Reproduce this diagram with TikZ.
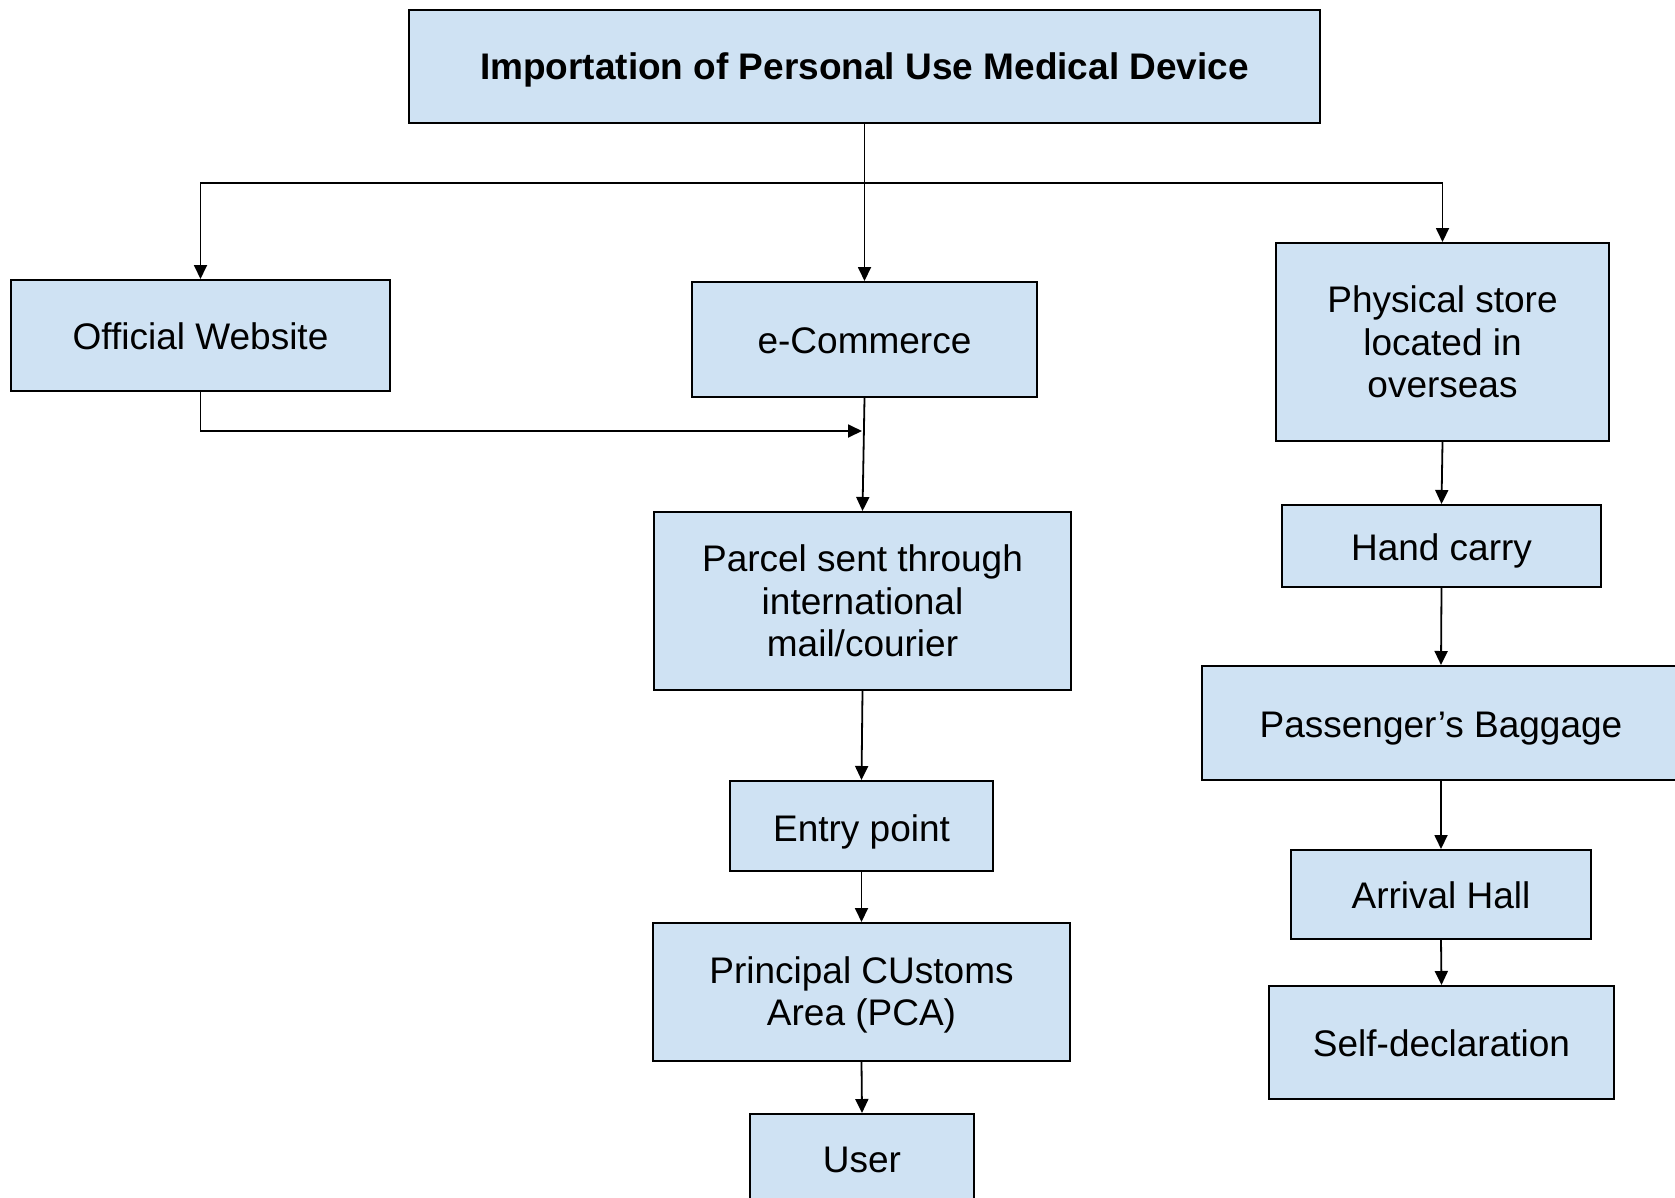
\documentclass[tikz,border=0pt]{standalone}
\usepackage{fontspec}
\setmainfont{Liberation Sans}
\usetikzlibrary{arrows.meta}
\definecolor{boxfill}{HTML}{CFE2F3}
\newcommand{\lowr}[2]{\raisebox{-#1}[\height][\depth]{#2}}
\begin{document}
\begin{tikzpicture}[x=1pt,y=-1pt,
  box/.style={draw=black,line width=2pt,fill=boxfill,rectangle,inner sep=0pt,align=center,
    font=\fontsize{37}{42.6}\selectfont},
  arr/.style={draw=black,line width=1.8pt,-{Triangle[width=13pt,length=14pt]}}]
\useasboundingbox (0,0) rectangle (1675,1197);
\node[box,font=\bfseries\fontsize{37}{42.6}\selectfont,minimum width=911pt,minimum height=113pt] (title) at (864.5,66.5) {\lowr{3pt}{Importation of Personal Use Medical Device}};
\node[box,minimum width=379pt,minimum height=111pt] (official) at (200.5,335.5) {\lowr{1pt}{Official Website}};
\node[box,minimum width=345pt,minimum height=115pt] (ecom) at (864.5,339.5) {\lowr{1pt}{e-Commerce}};
\node[box,minimum width=333pt,minimum height=198pt] (phys) at (1442.5,342) {Physical store\\located in\\overseas};
\node[box,minimum width=417pt,minimum height=178pt] (parcel) at (862.5,601) {Parcel sent through\\international\\mail/courier};
\node[box,minimum width=263pt,minimum height=90pt] (entry) at (861.5,826) {\lowr{6pt}{Entry point}};
\node[box,minimum width=417pt,minimum height=138pt] (pca) at (861.5,992) {\lowr{4pt}{\begin{tabular}{@{}c@{}}Principal CUstoms\\Area (PCA)\end{tabular}}};
\node[box,minimum width=224pt,minimum height=100pt,text depth=0pt] (user) at (862,1164) {\raisebox{8pt}{User}};
\node[box,minimum width=319pt,minimum height=82pt] (hand) at (1441.5,546) {\lowr{5pt}{Hand carry}};
\node[box,minimum width=478pt,minimum height=114pt] (pass) at (1441,723) {\lowr{6pt}{Passenger’s Baggage}};
\node[box,minimum width=300pt,minimum height=89pt] (arrival) at (1441,894.5) {\lowr{1pt}{Arrival Hall}};
\node[box,minimum width=345pt,minimum height=113pt] (self) at (1441.5,1042.5) {\lowr{1pt}{Self-declaration}};
\coordinate (j) at (864.5,183);
\coordinate (m) at (862,431);
\draw[arr] (title.south) -- (ecom.north);
\draw[arr] (j) -| (official.north);
\draw[arr] (j) -| (phys.north);
\draw[arr] (official.south) |- (m);
\draw[arr] (ecom.south) -- (parcel.north);
\draw[arr] (parcel.south) -- (entry.north);
\draw[arr] (entry.south) -- (pca.north);
\draw[arr] (pca.south) -- (user.north);
\draw[arr] (phys.south) -- (hand.north);
\draw[arr] (hand.south) -- (pass.north);
\draw[arr] (pass.south) -- (arrival.north);
\draw[arr] (arrival.south) -- (self.north);
\end{tikzpicture}
\end{document}
